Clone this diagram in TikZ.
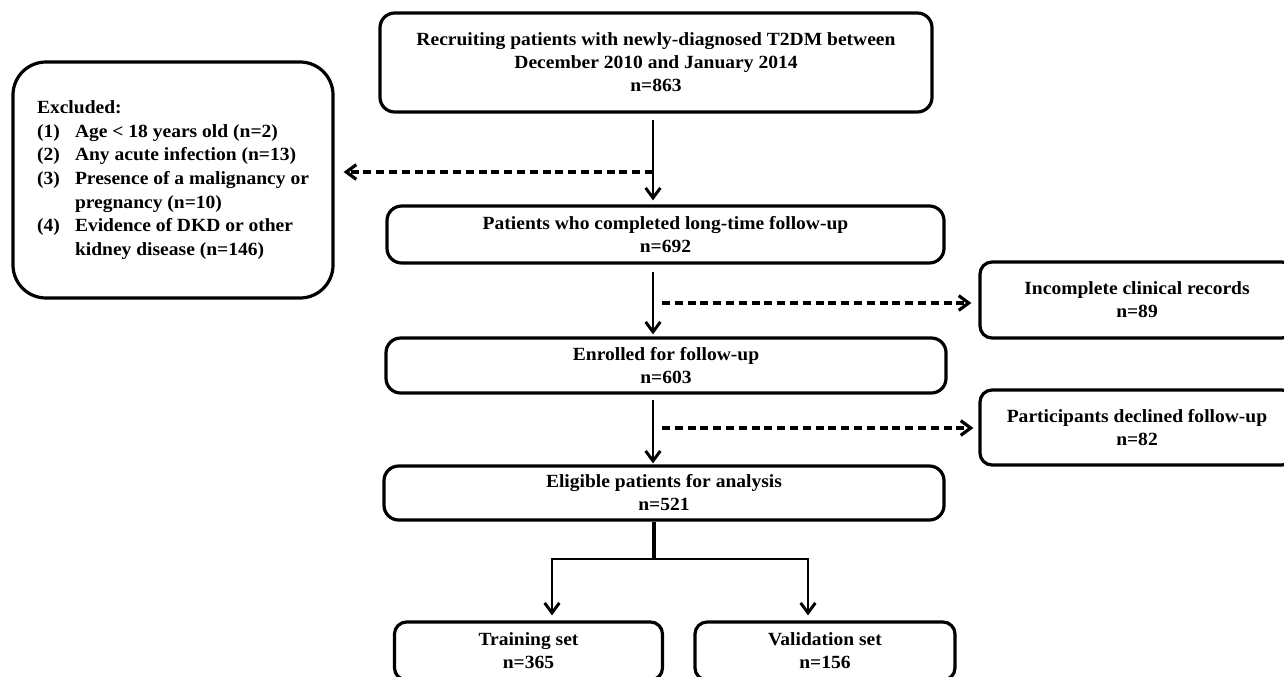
\documentclass[tikz,border=0pt]{standalone}
\usepackage{fontspec}
\setmainfont{Liberation Serif}[FakeStretch=1.05]
\usetikzlibrary{arrows.meta}
\newcommand\boxfont{\fontsize{13.95pt}{17.25pt}\selectfont\bfseries}
\newcommand\exclfont{\fontsize{13.95pt}{17.7pt}\selectfont\bfseries}
\newcommand\itm[1]{\makebox[28.5pt][l]{#1}}
\begin{document}
\begin{tikzpicture}[x=0.75pt,y=-0.75pt,
  box/.style={draw, line width=2.4pt, rounded corners=11pt, inner sep=0pt, align=center, font=\boxfont},
  sarrow/.style={line width=2.2pt, -{Straight Barb[length=7.5pt,width=11pt]}},
  darrow/.style={line width=2.4pt, dash pattern=on 6pt off 3.6pt, -{Straight Barb[length=7.5pt,width=11pt]}}]
\useasboundingbox (0,0) rectangle (1284,677);
\fill[white] (0,0) rectangle (1284,677);
\clip (0,0) rectangle (1284,677);

\node[box, minimum width=414pt, minimum height=74.25pt] (top) at (656,62.5)
  {Recruiting patients with newly-diagnosed T2DM between\\December 2010 and January 2014\\n=863};
\node[box, rounded corners=24.75pt, minimum width=240pt, minimum height=177pt, align=left, font=\exclfont] (excl) at (173,180)
  {Excluded:\\
   \itm{(1)}Age < 18 years old (n=2)\\
   \itm{(2)}Any acute infection (n=13)\\
   \itm{(3)}Presence of a malignancy or\\
   \itm{}pregnancy (n=10)\\
   \itm{(4)}Evidence of DKD or other\\
   \itm{}kidney disease (n=146)};
\node[box, minimum width=417.75pt, minimum height=42.75pt] (pat) at (665.5,234.5)
  {Patients who completed long-time follow-up\\n=692};
\node[box, rounded corners=9pt, minimum width=235.5pt, minimum height=57pt] (inc) at (1137,300)
  {Incomplete clinical records\\n=89};
\node[box, minimum width=420pt, minimum height=41.25pt] (enr) at (666,365.5)
  {Enrolled for follow-up\\n=603};
\node[box, rounded corners=9pt, minimum width=235.5pt, minimum height=56.25pt] (dec) at (1137,427.5)
  {Participants declined follow-up\\n=82};
\node[box, minimum width=420pt, minimum height=40.5pt] (eli) at (664,493)
  {Eligible patients for analysis\\n=521};
\node[box, rounded corners=9pt, minimum width=201pt, minimum height=43.5pt] (tra) at (528.5,651)
  {Training set\\n=365};
\node[box, rounded corners=9pt, minimum width=195pt, minimum height=43.5pt] (val) at (825,651)
  {Validation set\\n=156};

\coordinate (c) at (653,0);
\coordinate (a1) at (653,172);
\coordinate (b1) at (662,303);
\coordinate (b2) at (662,428);
\coordinate (sp) at (654,559);
\coordinate (tl) at (552,559);
\coordinate (vr) at (808,559);

\draw[sarrow, shorten <=4.5pt, shorten >=3pt] (top.south -| c) -- (pat.north -| c);
\draw[darrow, shorten >=6.75pt] (a1) -- (a1 -| excl.east);
\draw[sarrow, shorten <=5.25pt, shorten >=1.5pt] (pat.south -| c) -- (enr.north -| c);
\draw[darrow, shorten >=5.25pt] (b1) -- (b1 -| inc.west);
\draw[sarrow, shorten <=3.75pt, shorten >=0.75pt] (enr.south -| c) -- (eli.north -| c);
\draw[darrow, shorten >=3.75pt] (b2) -- (b2 -| dec.west);
\draw[line width=3pt] (eli.south -| sp) -- (sp);
\draw[sarrow, shorten >=3.75pt] (sp) -| (tra.north -| tl);
\draw[sarrow, shorten >=3.75pt] (sp) -| (val.north -| vr);
\end{tikzpicture}
\end{document}
